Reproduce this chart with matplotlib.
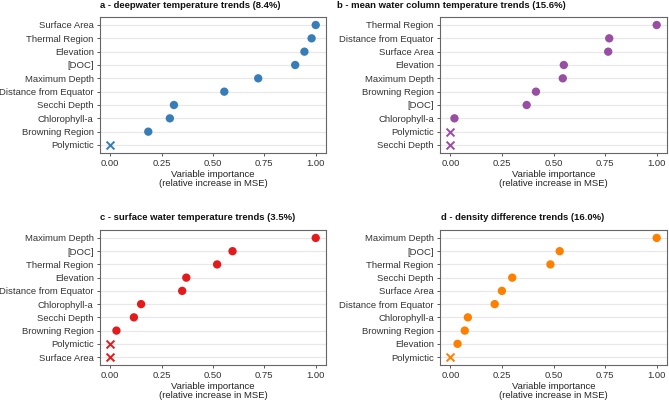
import matplotlib.pyplot as plt

plt.rcParams['font.family'] = ['Liberation Sans', 'DejaVu Sans']

titles = ['a - deepwater temperature trends (8.4%)',
          'b - mean water column temperature trends (15.6%)',
          'c - surface water temperature trends (3.5%)',
          'd - density difference trends (16.0%)']

vars_a = ['Surface Area', 'Thermal Region', 'Elevation', '[DOC]', 'Maximum Depth',
          'Distance from Equator', 'Secchi Depth', 'Chlorophyll-a', 'Browning Region', 'Polymictic']
imp_a = [1.00, 0.98, 0.945, 0.90, 0.72, 0.555, 0.31, 0.29, 0.185, 0.0]

vars_b = ['Thermal Region', 'Distance from Equator', 'Surface Area', 'Elevation', 'Maximum Depth',
          'Browning Region', '[DOC]', 'Chlorophyll-a', 'Polymictic', 'Secchi Depth']
imp_b = [1.00, 0.77, 0.765, 0.55, 0.545, 0.415, 0.37, 0.02, 0.0, 0.0]

vars_c = ['Maximum Depth', '[DOC]', 'Thermal Region', 'Elevation', 'Distance from Equator',
          'Chlorophyll-a', 'Secchi Depth', 'Browning Region', 'Polymictic', 'Surface Area']
imp_c = [1.00, 0.595, 0.52, 0.37, 0.35, 0.15, 0.115, 0.03, 0.0, 0.0]

vars_d = ['Maximum Depth', '[DOC]', 'Thermal Region', 'Secchi Depth', 'Surface Area',
          'Distance from Equator', 'Chlorophyll-a', 'Browning Region', 'Elevation', 'Polymictic']
imp_d = [1.00, 0.53, 0.485, 0.30, 0.25, 0.215, 0.085, 0.07, 0.035, 0.0]

colors = ['#377EB8', '#984EA3', '#E41A1C', '#FF7F00']

panels = [(vars_a, imp_a), (vars_b, imp_b), (vars_c, imp_c), (vars_d, imp_d)]

W, H = 669, 404
# axes boxes in pixels: left, top, right, bottom
boxes_px = [(100, 17, 326, 153),
            (440, 17, 667, 153),
            (100, 230, 326, 365),
            (440, 230, 667, 365)]
# left x of titles in pixels
title_x = [100, 337, 100, 441]

fig = plt.figure(figsize=(6.69, 4.04), dpi=100)

for (names, vals), col, title, (l, t, r, b), tx in zip(panels, colors, titles, boxes_px, title_x):
    ax = fig.add_axes([l / W, 1 - b / H, (r - l) / W, (b - t) / H])
    n = len(names)
    ypos = list(range(n - 1, -1, -1))
    for y, v in zip(ypos, vals):
        if v == 0:
            ax.scatter(v, y, marker='x', s=32, color=col, linewidths=1.4, zorder=3)
        else:
            ax.scatter(v, y, marker='o', s=36, color=col, edgecolors='none', zorder=3)
    ax.set_yticks(ypos)
    ax.set_yticklabels(names, fontsize=6.8, color='#333333')
    ax.set_ylim(-0.6, n - 0.4)
    ax.set_xlim(-0.05, 1.05)
    ax.set_xticks([0, 0.25, 0.5, 0.75, 1.0])
    ax.set_xticklabels(['0.00', '0.25', '0.50', '0.75', '1.00'], fontsize=6.8, color='#333333')
    ax.grid(axis='y', color='#e8e8e8', linewidth=0.9, zorder=0)
    ax.set_axisbelow(True)
    for s in ax.spines.values():
        s.set_color('#666666')
        s.set_linewidth(0.8)
    ax.tick_params(axis='both', length=2.5, color='#555555', width=0.7, pad=2)
    ax.set_xlabel('Variable importance\n(relative increase in MSE)', fontsize=6.8,
                  color='#222222', labelpad=1.5, linespacing=0.95)
    fig.text(tx / W, 1 - (t - 12) / H, title, fontsize=6.8, fontweight='bold',
             ha='left', va='center', color='#111111')

fig.savefig('out.png', dpi=100)
